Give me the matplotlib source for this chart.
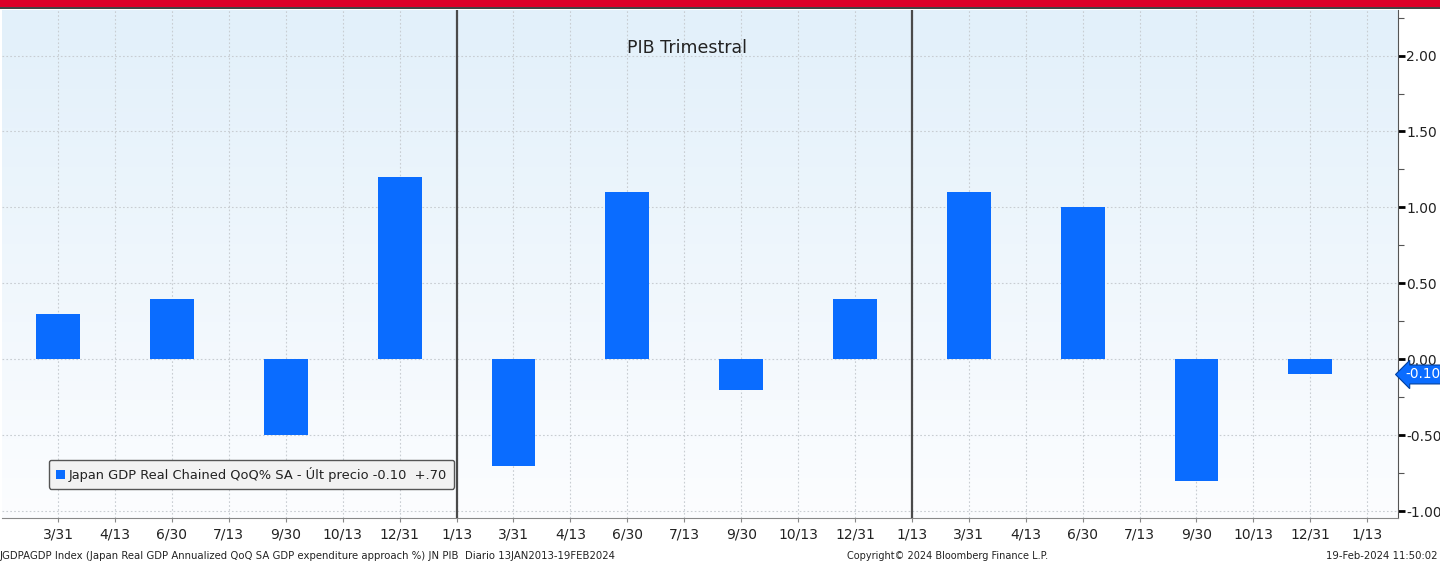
import numpy as np
import matplotlib.pyplot as plt
from matplotlib.patches import Rectangle
from matplotlib.ticker import MultipleLocator
from matplotlib.colors import LinearSegmentedColormap

# quarterly GDP QoQ % (three years, four quarters each)
quarter_pos = [0, 2, 4, 6, 8, 10, 12, 14, 16, 18, 20, 22]
gdp_qoq = [0.3, 0.4, -0.5, 1.2, -0.7, 1.1, -0.2, 0.4, 1.1, 1.0, -0.8, -0.1]
tick_labels = ['3/31', '4/13', '6/30', '7/13', '9/30', '10/13', '12/31', '1/13'] * 3
year_breaks = [7, 15]
last_price = -0.10

fig = plt.figure(figsize=(14.4, 5.62), dpi=100)
fig.patch.set_facecolor('white')
# red header band
fig.patches.append(Rectangle((0, 1 - 7 / 562), 1, 7 / 562, transform=fig.transFigure,
                             facecolor='#dc0028', edgecolor='none', zorder=0))
fig.patches.append(Rectangle((0, 1 - 9 / 562), 1, 2 / 562, transform=fig.transFigure,
                             facecolor='#444444', edgecolor='none', zorder=0))

ax = fig.add_axes([2 / 1440, 44 / 562, 1396 / 1440, 508 / 562])
xmin, xmax = -0.985, 23.54
ymin, ymax = -1.045, 2.30

# background gradient
grad = np.linspace(0, 1, 256).reshape(-1, 1)
bg = LinearSegmentedColormap.from_list('bg', ['#fcfdff', '#e2f0fa'])
ax.imshow(grad, extent=(xmin, xmax, ymin, ymax), origin='lower', aspect='auto',
          cmap=bg, zorder=0)

bars = ax.bar(quarter_pos, gdp_qoq, width=0.77, color='#0a6cff', zorder=3,
              label='Japan GDP Real Chained QoQ% SA - Últ precio -0.10  +.70')

for xb in year_breaks:
    ax.axvline(xb, color='#4a4a4a', lw=1.6, zorder=4)

ax.set_xlim(xmin, xmax)
ax.set_ylim(ymin, ymax)
ax.set_xticks(range(len(tick_labels)))
ax.set_xticklabels(tick_labels, fontsize=10, color='#222222')
ax.tick_params(axis='x', length=3, color='#888888', pad=4)

ax.yaxis.tick_right()
yt = np.arange(-1.0, 2.01, 0.5)
ax.set_yticks(yt)
ax.set_yticklabels(['%.2f' % v for v in yt], fontsize=10, color='#222222')
ax.yaxis.set_minor_locator(MultipleLocator(0.25))
ax.tick_params(axis='y', which='major', length=5, width=2, color='black', pad=1)
ax.tick_params(axis='y', which='minor', length=4, width=0.8, color='#555555')

ax.grid(True, which='major', color='#c8cdd2', linestyle=(0, (1.5, 2)), lw=0.8, zorder=1)

for s in ['top', 'left']:
    ax.spines[s].set_visible(False)
ax.spines['right'].set_color('#555555')
ax.spines['bottom'].set_color('#888888')

ax.text(0.4905, 0.925, 'PIB Trimestral', transform=ax.transAxes, fontsize=12.5,
        ha='center', va='center', color='#222222')

leg = ax.legend(handles=[bars], loc='lower left', bbox_to_anchor=(0.0335, 0.057),
                fontsize=9.4, handlelength=0.7, handleheight=0.7, handletextpad=0.3,
                borderpad=0.55, fancybox=True, framealpha=1, borderaxespad=0)
leg.get_frame().set_facecolor('#f2f2f2')
leg.get_frame().set_edgecolor('#555555')
leg.get_frame().set_linewidth(1.0)
for t in leg.get_texts():
    t.set_color('#222222')

# last price tag
ax.annotate('%.2f' % last_price, xy=(1.0, last_price), xycoords=('axes fraction', 'data'),
            xytext=(1.0055, last_price), textcoords=('axes fraction', 'data'),
            fontsize=9.8, color='white', ha='left', va='center', annotation_clip=False,
            bbox=dict(boxstyle='larrow,pad=0.18', fc='#0a6cff', ec='#0040a0', lw=0.8))

fig.text(0.0, 6 / 562, 'JGDPAGDP Index (Japan Real GDP Annualized QoQ SA GDP expenditure approach %) JN PIB  Diario 13JAN2013-19FEB2024',
         fontsize=7.3, ha='left', va='center', color='#222222')
fig.text(948 / 1440, 6 / 562, 'Copyright© 2024 Bloomberg Finance L.P.',
         fontsize=7.0, ha='center', va='center', color='#222222')
fig.text(1438 / 1440, 6 / 562, '19-Feb-2024 11:50:02',
         fontsize=7.3, ha='right', va='center', color='#222222')

fig.savefig('out.png', dpi=100)
